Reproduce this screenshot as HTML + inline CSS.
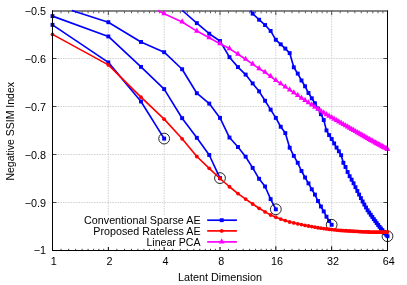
<!DOCTYPE html>
<html><head><meta charset="utf-8"><title>chart</title>
<style>html,body{margin:0;padding:0;background:#fff}svg{display:block;will-change:transform}text{font-family:"Liberation Sans",sans-serif}</style></head>
<body>
<svg width="407" height="285" viewBox="0 0 407 285">
<rect width="407" height="285" fill="#fff"/>
<g stroke="#d0d0d0" stroke-width="1" stroke-dasharray="1.5,1.1" fill="none"><path d="M108.33,10.5V250.5"/><path d="M164.17,10.5V250.5"/><path d="M220,10.5V250.5"/><path d="M275.83,10.5V250.5"/><path d="M331.67,10.5V250.5"/><path d="M52.5,58.5H387.5"/><path d="M52.5,106.5H387.5"/><path d="M52.5,154.5H387.5"/><path d="M52.5,202.5H387.5"/></g>
<g stroke="#000" stroke-width="1" fill="none"><path d="M108.33,250.5v-4.2"/><path d="M108.33,11.5v3.6" opacity="0.7"/><path d="M164.17,250.5v-4.2"/><path d="M164.17,11.5v3.6" opacity="0.7"/><path d="M220,250.5v-4.2"/><path d="M220,11.5v3.6" opacity="0.7"/><path d="M275.83,250.5v-4.2"/><path d="M275.83,11.5v3.6" opacity="0.7"/><path d="M331.67,250.5v-4.2"/><path d="M331.67,11.5v3.6" opacity="0.7"/><path d="M52.5,58.5h4M387.5,58.5h-4" opacity="0.7"/><path d="M52.5,106.5h4M387.5,106.5h-4" opacity="0.7"/><path d="M52.5,154.5h4M387.5,154.5h-4" opacity="0.7"/><path d="M52.5,202.5h4M387.5,202.5h-4" opacity="0.7"/></g>
<g stroke="#000" stroke-width="1" fill="none" opacity="0.75"><path d="M60.99,250.5v-1.7"/><path d="M60.99,11.5v1.8" opacity="0.85"/><path d="M68.66,250.5v-1.7"/><path d="M68.66,11.5v1.8" opacity="0.85"/><path d="M75.67,250.5v-1.7"/><path d="M75.67,11.5v1.8" opacity="0.85"/><path d="M82.12,250.5v-1.7"/><path d="M82.12,11.5v1.8" opacity="0.85"/><path d="M88.09,250.5v-1.7"/><path d="M88.09,11.5v1.8" opacity="0.85"/><path d="M93.65,250.5v-1.7"/><path d="M93.65,11.5v1.8" opacity="0.85"/><path d="M98.85,250.5v-1.7"/><path d="M98.85,11.5v1.8" opacity="0.85"/><path d="M103.73,250.5v-1.7"/><path d="M103.73,11.5v1.8" opacity="0.85"/><path d="M116.82,250.5v-1.7"/><path d="M116.82,11.5v1.8" opacity="0.85"/><path d="M124.5,250.5v-1.7"/><path d="M124.5,11.5v1.8" opacity="0.85"/><path d="M131.51,250.5v-1.7"/><path d="M131.51,11.5v1.8" opacity="0.85"/><path d="M137.95,250.5v-1.7"/><path d="M137.95,11.5v1.8" opacity="0.85"/><path d="M143.92,250.5v-1.7"/><path d="M143.92,11.5v1.8" opacity="0.85"/><path d="M149.48,250.5v-1.7"/><path d="M149.48,11.5v1.8" opacity="0.85"/><path d="M154.68,250.5v-1.7"/><path d="M154.68,11.5v1.8" opacity="0.85"/><path d="M159.56,250.5v-1.7"/><path d="M159.56,11.5v1.8" opacity="0.85"/><path d="M172.65,250.5v-1.7"/><path d="M172.65,11.5v1.8" opacity="0.85"/><path d="M180.33,250.5v-1.7"/><path d="M180.33,11.5v1.8" opacity="0.85"/><path d="M187.34,250.5v-1.7"/><path d="M187.34,11.5v1.8" opacity="0.85"/><path d="M193.79,250.5v-1.7"/><path d="M193.79,11.5v1.8" opacity="0.85"/><path d="M199.76,250.5v-1.7"/><path d="M199.76,11.5v1.8" opacity="0.85"/><path d="M205.31,250.5v-1.7"/><path d="M205.31,11.5v1.8" opacity="0.85"/><path d="M210.51,250.5v-1.7"/><path d="M210.51,11.5v1.8" opacity="0.85"/><path d="M215.4,250.5v-1.7"/><path d="M215.4,11.5v1.8" opacity="0.85"/><path d="M228.49,250.5v-1.7"/><path d="M228.49,11.5v1.8" opacity="0.85"/><path d="M236.16,250.5v-1.7"/><path d="M236.16,11.5v1.8" opacity="0.85"/><path d="M243.17,250.5v-1.7"/><path d="M243.17,11.5v1.8" opacity="0.85"/><path d="M249.62,250.5v-1.7"/><path d="M249.62,11.5v1.8" opacity="0.85"/><path d="M255.59,250.5v-1.7"/><path d="M255.59,11.5v1.8" opacity="0.85"/><path d="M261.15,250.5v-1.7"/><path d="M261.15,11.5v1.8" opacity="0.85"/><path d="M266.35,250.5v-1.7"/><path d="M266.35,11.5v1.8" opacity="0.85"/><path d="M271.23,250.5v-1.7"/><path d="M271.23,11.5v1.8" opacity="0.85"/><path d="M284.32,250.5v-1.7"/><path d="M284.32,11.5v1.8" opacity="0.85"/><path d="M292,250.5v-1.7"/><path d="M292,11.5v1.8" opacity="0.85"/><path d="M299.01,250.5v-1.7"/><path d="M299.01,11.5v1.8" opacity="0.85"/><path d="M305.45,250.5v-1.7"/><path d="M305.45,11.5v1.8" opacity="0.85"/><path d="M311.42,250.5v-1.7"/><path d="M311.42,11.5v1.8" opacity="0.85"/><path d="M316.98,250.5v-1.7"/><path d="M316.98,11.5v1.8" opacity="0.85"/><path d="M322.18,250.5v-1.7"/><path d="M322.18,11.5v1.8" opacity="0.85"/><path d="M327.06,250.5v-1.7"/><path d="M327.06,11.5v1.8" opacity="0.85"/><path d="M340.15,250.5v-1.7"/><path d="M340.15,11.5v1.8" opacity="0.85"/><path d="M347.83,250.5v-1.7"/><path d="M347.83,11.5v1.8" opacity="0.85"/><path d="M354.84,250.5v-1.7"/><path d="M354.84,11.5v1.8" opacity="0.85"/><path d="M361.29,250.5v-1.7"/><path d="M361.29,11.5v1.8" opacity="0.85"/><path d="M367.26,250.5v-1.7"/><path d="M367.26,11.5v1.8" opacity="0.85"/><path d="M372.81,250.5v-1.7"/><path d="M372.81,11.5v1.8" opacity="0.85"/><path d="M378.01,250.5v-1.7"/><path d="M378.01,11.5v1.8" opacity="0.85"/><path d="M382.9,250.5v-1.7"/><path d="M382.9,11.5v1.8" opacity="0.85"/></g>
<path d="M52.0,11H388.0" stroke="#000" stroke-width="1" fill="none" opacity="0.95"/>
<path d="M52.5,10.5V251.0M52.0,250.5H388.0M387.5,10.5V251.0" stroke="#000" stroke-width="1" fill="none"/>
<polyline points="52.5,24.85 108.33,62.4 140.99,101.5 164.17,138.6" fill="none" stroke="#0000ff" stroke-width="1.65" stroke-linejoin="round"/>
<g fill="#0000ff"><rect x="50.55" y="22.9" width="3.9" height="3.9"/><rect x="106.38" y="60.45" width="3.9" height="3.9"/><rect x="139.04" y="99.55" width="3.9" height="3.9"/><rect x="162.22" y="136.65" width="3.9" height="3.9"/></g>
<polyline points="52.5,16.1 108.33,36.45 140.99,66.9 164.17,89.1 182.14,118.2 196.83,137.8 209.24,155 220,178.1" fill="none" stroke="#0000ff" stroke-width="1.65" stroke-linejoin="round"/>
<g fill="#0000ff"><rect x="50.55" y="14.15" width="3.9" height="3.9"/><rect x="106.38" y="34.5" width="3.9" height="3.9"/><rect x="139.04" y="64.95" width="3.9" height="3.9"/><rect x="162.22" y="87.15" width="3.9" height="3.9"/><rect x="180.19" y="116.25" width="3.9" height="3.9"/><rect x="194.88" y="135.85" width="3.9" height="3.9"/><rect x="207.29" y="153.05" width="3.9" height="3.9"/><rect x="218.05" y="176.15" width="3.9" height="3.9"/></g>
<polyline points="71.84,10.5 108.33,22.2 140.99,41.95 164.17,52.2 182.14,69.25 196.83,93.24 209.24,103.6 220,117.9 229.49,137.55 237.97,147 245.65,156.7 252.66,167.9 259.11,178.8 265.08,186.5 270.63,199.1 275.83,209.3" fill="none" stroke="#0000ff" stroke-width="1.65" stroke-linejoin="round"/>
<g fill="#0000ff"><rect x="106.38" y="20.25" width="3.9" height="3.9"/><rect x="139.04" y="40" width="3.9" height="3.9"/><rect x="162.22" y="50.25" width="3.9" height="3.9"/><rect x="180.19" y="67.3" width="3.9" height="3.9"/><rect x="194.88" y="91.29" width="3.9" height="3.9"/><rect x="207.29" y="101.65" width="3.9" height="3.9"/><rect x="218.05" y="115.95" width="3.9" height="3.9"/><rect x="227.54" y="135.6" width="3.9" height="3.9"/><rect x="236.02" y="145.05" width="3.9" height="3.9"/><rect x="243.7" y="154.75" width="3.9" height="3.9"/><rect x="250.71" y="165.95" width="3.9" height="3.9"/><rect x="257.16" y="176.85" width="3.9" height="3.9"/><rect x="263.13" y="184.55" width="3.9" height="3.9"/><rect x="268.68" y="197.15" width="3.9" height="3.9"/><rect x="273.88" y="207.35" width="3.9" height="3.9"/></g>
<polyline points="182.37,10.5 196.83,23.1 209.24,33.7 220,41 229.49,57.2 237.97,67.1 245.65,74.6 252.66,83.4 259.11,91.35 265.08,100.75 270.63,109.65 275.83,117.9 280.72,126.75 285.32,133.1 289.68,147.7 293.81,155.9 297.74,162.8 301.48,171 305.07,177.5 308.49,183.4 311.78,189.3 314.94,194.6 317.98,201 320.91,206.5 323.74,211.4 326.47,216.7 329.11,221 331.67,224.8" fill="none" stroke="#0000ff" stroke-width="1.65" stroke-linejoin="round"/>
<g fill="#0000ff"><rect x="194.88" y="21.15" width="3.9" height="3.9"/><rect x="207.29" y="31.75" width="3.9" height="3.9"/><rect x="218.05" y="39.05" width="3.9" height="3.9"/><rect x="227.54" y="55.25" width="3.9" height="3.9"/><rect x="236.02" y="65.15" width="3.9" height="3.9"/><rect x="243.7" y="72.65" width="3.9" height="3.9"/><rect x="250.71" y="81.45" width="3.9" height="3.9"/><rect x="257.16" y="89.4" width="3.9" height="3.9"/><rect x="263.13" y="98.8" width="3.9" height="3.9"/><rect x="268.68" y="107.7" width="3.9" height="3.9"/><rect x="273.88" y="115.95" width="3.9" height="3.9"/><rect x="278.77" y="124.8" width="3.9" height="3.9"/><rect x="283.37" y="131.15" width="3.9" height="3.9"/><rect x="287.73" y="145.75" width="3.9" height="3.9"/><rect x="291.86" y="153.95" width="3.9" height="3.9"/><rect x="295.79" y="160.85" width="3.9" height="3.9"/><rect x="299.53" y="169.05" width="3.9" height="3.9"/><rect x="303.12" y="175.55" width="3.9" height="3.9"/><rect x="306.54" y="181.45" width="3.9" height="3.9"/><rect x="309.83" y="187.35" width="3.9" height="3.9"/><rect x="312.99" y="192.65" width="3.9" height="3.9"/><rect x="316.03" y="199.05" width="3.9" height="3.9"/><rect x="318.96" y="204.55" width="3.9" height="3.9"/><rect x="321.79" y="209.45" width="3.9" height="3.9"/><rect x="324.52" y="214.75" width="3.9" height="3.9"/><rect x="327.16" y="219.05" width="3.9" height="3.9"/><rect x="329.72" y="222.85" width="3.9" height="3.9"/></g>
<polyline points="250.61,10.5 252.66,13.65 259.11,19.74 265.08,25.05 270.63,30.95 275.83,39.8 280.72,44.3 285.32,48.6 289.68,53.1 293.81,67.3 297.74,73.6 301.48,80.5 305.07,86.3 308.49,93 311.78,98.3 314.94,103.3 317.98,108.5 320.91,114.2 323.74,120 326.47,130.4 329.11,135.1 331.67,139 334.15,143.4 336.55,147.6 338.88,151.3 341.15,155.2 343.36,162.8 345.51,167 347.6,172 349.64,176.2 351.63,179.7 353.57,183.3 355.47,187.2 357.32,191 359.13,194.6 360.9,198.1 362.63,201.5 364.33,204.6 365.99,207.48 367.62,210.3 369.21,212.56 370.77,214.78 372.31,216.96 373.81,219.1 375.29,221.1 376.74,223.07 378.17,225 379.57,226.9 380.95,228.51 382.3,230.1 383.63,231.66 384.94,233.2 386.23,234.71 387.5,236.2" fill="none" stroke="#0000ff" stroke-width="1.65" stroke-linejoin="round"/>
<g fill="#0000ff"><rect x="250.71" y="11.7" width="3.9" height="3.9"/><rect x="257.16" y="17.79" width="3.9" height="3.9"/><rect x="263.13" y="23.1" width="3.9" height="3.9"/><rect x="268.68" y="29" width="3.9" height="3.9"/><rect x="273.88" y="37.85" width="3.9" height="3.9"/><rect x="278.77" y="42.35" width="3.9" height="3.9"/><rect x="283.37" y="46.65" width="3.9" height="3.9"/><rect x="287.73" y="51.15" width="3.9" height="3.9"/><rect x="291.86" y="65.35" width="3.9" height="3.9"/><rect x="295.79" y="71.65" width="3.9" height="3.9"/><rect x="299.53" y="78.55" width="3.9" height="3.9"/><rect x="303.12" y="84.35" width="3.9" height="3.9"/><rect x="306.54" y="91.05" width="3.9" height="3.9"/><rect x="309.83" y="96.35" width="3.9" height="3.9"/><rect x="312.99" y="101.35" width="3.9" height="3.9"/><rect x="316.03" y="106.55" width="3.9" height="3.9"/><rect x="318.96" y="112.25" width="3.9" height="3.9"/><rect x="321.79" y="118.05" width="3.9" height="3.9"/><rect x="324.52" y="128.45" width="3.9" height="3.9"/><rect x="327.16" y="133.15" width="3.9" height="3.9"/><rect x="329.72" y="137.05" width="3.9" height="3.9"/><rect x="332.2" y="141.45" width="3.9" height="3.9"/><rect x="334.6" y="145.65" width="3.9" height="3.9"/><rect x="336.93" y="149.35" width="3.9" height="3.9"/><rect x="339.2" y="153.25" width="3.9" height="3.9"/><rect x="341.41" y="160.85" width="3.9" height="3.9"/><rect x="343.56" y="165.05" width="3.9" height="3.9"/><rect x="345.65" y="170.05" width="3.9" height="3.9"/><rect x="347.69" y="174.25" width="3.9" height="3.9"/><rect x="349.68" y="177.75" width="3.9" height="3.9"/><rect x="351.62" y="181.35" width="3.9" height="3.9"/><rect x="353.52" y="185.25" width="3.9" height="3.9"/><rect x="355.37" y="189.05" width="3.9" height="3.9"/><rect x="357.18" y="192.65" width="3.9" height="3.9"/><rect x="358.95" y="196.15" width="3.9" height="3.9"/><rect x="360.68" y="199.55" width="3.9" height="3.9"/><rect x="362.38" y="202.65" width="3.9" height="3.9"/><rect x="364.04" y="205.53" width="3.9" height="3.9"/><rect x="365.67" y="208.35" width="3.9" height="3.9"/><rect x="367.26" y="210.61" width="3.9" height="3.9"/><rect x="368.82" y="212.83" width="3.9" height="3.9"/><rect x="370.36" y="215.01" width="3.9" height="3.9"/><rect x="371.86" y="217.15" width="3.9" height="3.9"/><rect x="373.34" y="219.15" width="3.9" height="3.9"/><rect x="374.79" y="221.12" width="3.9" height="3.9"/><rect x="376.22" y="223.05" width="3.9" height="3.9"/><rect x="377.62" y="224.95" width="3.9" height="3.9"/><rect x="379" y="226.56" width="3.9" height="3.9"/><rect x="380.35" y="228.15" width="3.9" height="3.9"/><rect x="381.68" y="229.71" width="3.9" height="3.9"/><rect x="382.99" y="231.25" width="3.9" height="3.9"/><rect x="384.28" y="232.76" width="3.9" height="3.9"/><rect x="385.55" y="234.25" width="3.9" height="3.9"/></g>
<g fill="none" stroke="#000" stroke-width="0.85"><circle cx="164.17" cy="138.6" r="5.4"/><circle cx="220" cy="178.1" r="5.4"/><circle cx="275.83" cy="209.3" r="5.4"/><circle cx="331.67" cy="224.8" r="5.4"/><circle cx="387.5" cy="236.2" r="5.4"/></g>
<path d="M387.5,225V244" stroke="#000" stroke-width="1" fill="none"/>
<polyline points="52.5,34.4 108.33,64.9 140.99,97.2 164.17,119.15 182.14,138.8 196.83,156.5 209.24,168.3 220,178.5 229.49,186.75 237.97,193.6 245.65,199.1 252.66,204 259.11,208.3 265.08,211.9 270.63,215 275.83,217.2 280.72,219.1 285.32,220.6 289.68,222 293.81,222.9 297.74,223.8 301.48,224.6 305.07,225.4 308.49,226.02 311.78,226.61 314.94,227.18 317.98,227.73 320.91,228.19 323.74,228.56 326.47,228.92 329.11,229.26 331.67,229.6 334.15,229.84 336.55,230.06 338.88,230.28 341.15,230.5 343.36,230.63 345.51,230.76 347.6,230.88 349.64,231 351.63,231.12 353.57,231.24 355.47,231.36 357.32,231.47 359.13,231.58 360.9,231.69 362.63,231.8 364.33,231.85 365.99,231.91 367.62,231.96 369.21,232.01 370.77,232.06 372.31,232.11 373.81,232.15 375.29,232.2 376.74,232.19 378.17,232.18 379.57,232.16 380.95,232.15 382.3,232.14 383.63,232.13 384.94,232.12 386.23,232.11 387.5,232.1" fill="none" stroke="#ff0000" stroke-width="1.65" stroke-linejoin="round"/>
<g fill="#ff0000"><circle cx="52.5" cy="34.4" r="1.9"/><circle cx="108.33" cy="64.9" r="1.9"/><circle cx="140.99" cy="97.2" r="1.9"/><circle cx="164.17" cy="119.15" r="1.9"/><circle cx="182.14" cy="138.8" r="1.9"/><circle cx="196.83" cy="156.5" r="1.9"/><circle cx="209.24" cy="168.3" r="1.9"/><circle cx="220" cy="178.5" r="1.9"/><circle cx="229.49" cy="186.75" r="1.9"/><circle cx="237.97" cy="193.6" r="1.9"/><circle cx="245.65" cy="199.1" r="1.9"/><circle cx="252.66" cy="204" r="1.9"/><circle cx="259.11" cy="208.3" r="1.9"/><circle cx="265.08" cy="211.9" r="1.9"/><circle cx="270.63" cy="215" r="1.9"/><circle cx="275.83" cy="217.2" r="1.9"/><circle cx="280.72" cy="219.1" r="1.9"/><circle cx="285.32" cy="220.6" r="1.9"/><circle cx="289.68" cy="222" r="1.9"/><circle cx="293.81" cy="222.9" r="1.9"/><circle cx="297.74" cy="223.8" r="1.9"/><circle cx="301.48" cy="224.6" r="1.9"/><circle cx="305.07" cy="225.4" r="1.9"/><circle cx="308.49" cy="226.02" r="1.9"/><circle cx="311.78" cy="226.61" r="1.9"/><circle cx="314.94" cy="227.18" r="1.9"/><circle cx="317.98" cy="227.73" r="1.9"/><circle cx="320.91" cy="228.19" r="1.9"/><circle cx="323.74" cy="228.56" r="1.9"/><circle cx="326.47" cy="228.92" r="1.9"/><circle cx="329.11" cy="229.26" r="1.9"/><circle cx="331.67" cy="229.6" r="1.9"/><circle cx="334.15" cy="229.84" r="1.9"/><circle cx="336.55" cy="230.06" r="1.9"/><circle cx="338.88" cy="230.28" r="1.9"/><circle cx="341.15" cy="230.5" r="1.9"/><circle cx="343.36" cy="230.63" r="1.9"/><circle cx="345.51" cy="230.76" r="1.9"/><circle cx="347.6" cy="230.88" r="1.9"/><circle cx="349.64" cy="231" r="1.9"/><circle cx="351.63" cy="231.12" r="1.9"/><circle cx="353.57" cy="231.24" r="1.9"/><circle cx="355.47" cy="231.36" r="1.9"/><circle cx="357.32" cy="231.47" r="1.9"/><circle cx="359.13" cy="231.58" r="1.9"/><circle cx="360.9" cy="231.69" r="1.9"/><circle cx="362.63" cy="231.8" r="1.9"/><circle cx="364.33" cy="231.85" r="1.9"/><circle cx="365.99" cy="231.91" r="1.9"/><circle cx="367.62" cy="231.96" r="1.9"/><circle cx="369.21" cy="232.01" r="1.9"/><circle cx="370.77" cy="232.06" r="1.9"/><circle cx="372.31" cy="232.11" r="1.9"/><circle cx="373.81" cy="232.15" r="1.9"/><circle cx="375.29" cy="232.2" r="1.9"/><circle cx="376.74" cy="232.19" r="1.9"/><circle cx="378.17" cy="232.18" r="1.9"/><circle cx="379.57" cy="232.16" r="1.9"/><circle cx="380.95" cy="232.15" r="1.9"/><circle cx="382.3" cy="232.14" r="1.9"/><circle cx="383.63" cy="232.13" r="1.9"/><circle cx="384.94" cy="232.12" r="1.9"/><circle cx="386.23" cy="232.11" r="1.9"/><circle cx="387.5" cy="232.1" r="1.9"/></g>
<polyline points="158.01,10.5 164.17,13.65 182.14,22 196.83,31.1 209.24,37.8 220,43.7 229.49,48.6 237.97,54.2 245.65,59.3 252.66,64.1 259.11,68.7 265.08,72.3 270.63,76.5 275.83,80.4 280.72,83.8 285.32,86.9 289.68,89.9 293.81,92.8 297.74,95.5 301.48,98.1 305.07,100.5 308.49,102.8 311.78,105.01 314.94,107.14 317.98,109.18 320.91,111.15 323.74,112.97 326.47,114.6 329.11,116.17 331.67,117.7 334.15,119.15 336.55,120.55 338.88,121.92 341.15,123.24 343.36,124.53 345.51,125.79 347.6,127.01 349.64,128.2 351.63,129.34 353.57,130.45 355.47,131.53 357.32,132.59 359.13,133.63 360.9,134.64 362.63,135.63 364.33,136.6 365.99,137.58 367.62,138.54 369.21,139.48 370.77,140.4 372.31,141.23 373.81,142.04 375.29,142.83 376.74,143.61 378.17,144.38 379.57,145.13 380.95,145.87 382.3,146.6 383.63,147.32 384.94,148.02 386.23,148.72 387.5,149.4" fill="none" stroke="#ff00ff" stroke-width="1.65" stroke-linejoin="round"/>
<g fill="#ff00ff"><path d="M164.17,10.01L166.97,15.21L161.37,15.21z"/><path d="M182.14,18.36L184.94,23.56L179.34,23.56z"/><path d="M196.83,27.46L199.63,32.66L194.03,32.66z"/><path d="M209.24,34.16L212.04,39.36L206.44,39.36z"/><path d="M220,40.06L222.8,45.26L217.2,45.26z"/><path d="M229.49,44.96L232.29,50.16L226.69,50.16z"/><path d="M237.97,50.56L240.77,55.76L235.17,55.76z"/><path d="M245.65,55.66L248.45,60.86L242.85,60.86z"/><path d="M252.66,60.46L255.46,65.66L249.86,65.66z"/><path d="M259.11,65.06L261.91,70.26L256.31,70.26z"/><path d="M265.08,68.66L267.88,73.86L262.28,73.86z"/><path d="M270.63,72.86L273.43,78.06L267.83,78.06z"/><path d="M275.83,76.76L278.63,81.96L273.03,81.96z"/><path d="M280.72,80.16L283.52,85.36L277.92,85.36z"/><path d="M285.32,83.26L288.12,88.46L282.52,88.46z"/><path d="M289.68,86.26L292.48,91.46L286.88,91.46z"/><path d="M293.81,89.16L296.61,94.36L291.01,94.36z"/><path d="M297.74,91.86L300.54,97.06L294.94,97.06z"/><path d="M301.48,94.46L304.28,99.66L298.68,99.66z"/><path d="M305.07,96.86L307.87,102.06L302.27,102.06z"/><path d="M308.49,99.16L311.29,104.36L305.69,104.36z"/><path d="M311.78,101.37L314.58,106.57L308.98,106.57z"/><path d="M314.94,103.5L317.74,108.7L312.14,108.7z"/><path d="M317.98,105.54L320.78,110.74L315.18,110.74z"/><path d="M320.91,107.51L323.71,112.71L318.11,112.71z"/><path d="M323.74,109.33L326.54,114.53L320.94,114.53z"/><path d="M326.47,110.96L329.27,116.16L323.67,116.16z"/><path d="M329.11,112.53L331.91,117.73L326.31,117.73z"/><path d="M331.67,114.06L334.47,119.26L328.87,119.26z"/><path d="M334.15,115.51L336.95,120.71L331.35,120.71z"/><path d="M336.55,116.91L339.35,122.11L333.75,122.11z"/><path d="M338.88,118.28L341.68,123.48L336.08,123.48z"/><path d="M341.15,119.6L343.95,124.8L338.35,124.8z"/><path d="M343.36,120.89L346.16,126.09L340.56,126.09z"/><path d="M345.51,122.15L348.31,127.35L342.71,127.35z"/><path d="M347.6,123.37L350.4,128.57L344.8,128.57z"/><path d="M349.64,124.56L352.44,129.76L346.84,129.76z"/><path d="M351.63,125.7L354.43,130.9L348.83,130.9z"/><path d="M353.57,126.81L356.37,132.01L350.77,132.01z"/><path d="M355.47,127.89L358.27,133.09L352.67,133.09z"/><path d="M357.32,128.95L360.12,134.15L354.52,134.15z"/><path d="M359.13,129.99L361.93,135.19L356.33,135.19z"/><path d="M360.9,131L363.7,136.2L358.1,136.2z"/><path d="M362.63,131.99L365.43,137.19L359.83,137.19z"/><path d="M364.33,132.96L367.13,138.16L361.53,138.16z"/><path d="M365.99,133.94L368.79,139.14L363.19,139.14z"/><path d="M367.62,134.9L370.42,140.1L364.82,140.1z"/><path d="M369.21,135.84L372.01,141.04L366.41,141.04z"/><path d="M370.77,136.76L373.57,141.96L367.97,141.96z"/><path d="M372.31,137.59L375.11,142.79L369.51,142.79z"/><path d="M373.81,138.4L376.61,143.6L371.01,143.6z"/><path d="M375.29,139.19L378.09,144.39L372.49,144.39z"/><path d="M376.74,139.97L379.54,145.17L373.94,145.17z"/><path d="M378.17,140.74L380.97,145.94L375.37,145.94z"/><path d="M379.57,141.49L382.37,146.69L376.77,146.69z"/><path d="M380.95,142.23L383.75,147.43L378.15,147.43z"/><path d="M382.3,142.96L385.1,148.16L379.5,148.16z"/><path d="M383.63,143.68L386.43,148.88L380.83,148.88z"/><path d="M384.94,144.38L387.74,149.58L382.14,149.58z"/><path d="M386.23,145.08L389.03,150.28L383.43,150.28z"/><path d="M387.5,145.76L390.3,150.96L384.7,150.96z"/></g>
<path d="M387.5,138V158M52.5,10.5V251.0" stroke="#000" stroke-width="1" fill="none"/>
<rect x="80" y="215" width="160" height="32" fill="#fff"/>
<path d="M207.2,220.2H236.9" stroke="#0000ff" stroke-width="1.7"/>
<g fill="#0000ff"><rect x="219.75" y="218.25" width="3.9" height="3.9"/></g>
<path d="M207.2,230.9H236.9" stroke="#ff0000" stroke-width="1.7"/>
<g fill="#ff0000"><circle cx="221.7" cy="230.9" r="1.9"/></g>
<path d="M207.2,241.9H236.9" stroke="#ff00ff" stroke-width="1.7"/>
<g fill="#ff00ff"><path d="M221.7,238.26L224.5,243.46L218.9,243.46z"/></g>
<g font-family="'Liberation Sans', sans-serif" font-size="10.8px" fill="#000"><text x="200.6" y="224.1" text-anchor="end" font-size="10.75px">Conventional Sparse AE</text><text x="200.6" y="234.8" text-anchor="end" font-size="10.73px">Proposed Rateless AE</text><text x="200.6" y="245.8" text-anchor="end" font-size="10.6px">Linear PCA</text><text x="53.8" y="264.7" text-anchor="middle">1</text><text x="109.63" y="264.7" text-anchor="middle">2</text><text x="165.47" y="264.7" text-anchor="middle">4</text><text x="221.3" y="264.7" text-anchor="middle">8</text><text x="277.13" y="264.7" text-anchor="middle">16</text><text x="332.97" y="264.7" text-anchor="middle">32</text><text x="388.8" y="264.7" text-anchor="middle">64</text><text x="46.0" y="14.5" text-anchor="end">−0.5</text><text x="46.0" y="62.5" text-anchor="end">−0.6</text><text x="46.0" y="110.5" text-anchor="end">−0.7</text><text x="46.0" y="158.5" text-anchor="end">−0.8</text><text x="46.0" y="206.5" text-anchor="end">−0.9</text><text x="46.0" y="253.9" text-anchor="end">−1</text><text x="220" y="280.6" text-anchor="middle">Latent Dimension</text><text transform="translate(13.6,131.3) rotate(-90)" text-anchor="middle" font-size="10.5px">Negative SSIM Index</text></g>
</svg>
</body></html>
